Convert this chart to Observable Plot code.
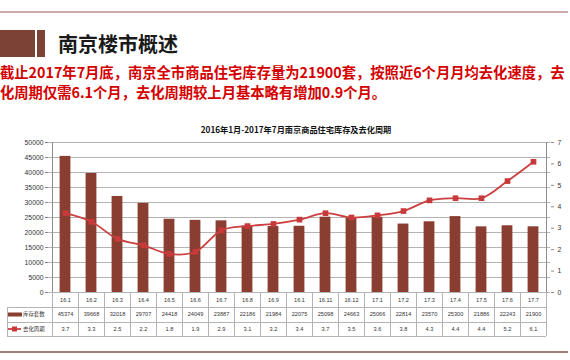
<!DOCTYPE html>
<html><head><meta charset="utf-8">
<script src="https://cdn.jsdelivr.net/npm/d3@7"></script>
<script src="https://cdn.jsdelivr.net/npm/@observablehq/plot@0.6"></script>
<style>
body{margin:0;background:#fff;}
#wrap{position:relative;width:570px;height:360px;overflow:hidden;background:#fff;font-family:"Noto Sans CJK SC",sans-serif;}
.abs{position:absolute;white-space:nowrap;}
#chart{position:absolute;left:0;top:110px;}
</style></head>
<body><div id="wrap">
<div class="abs" style="left:0;top:11px;width:568px;height:2px;background:#c9aaa8"></div>
<div class="abs" style="left:0;top:30px;width:35px;height:27px;background:#7d4236"></div>
<div class="abs" style="left:37px;top:30px;width:8px;height:27px;background:#7d4236"></div>
<div class="abs" style="left:58px;top:30px;font-size:20px;line-height:28px;font-weight:bold;color:#1a1a1a;font-family:'Noto Sans CJK SC'">南京楼市概述</div>
<div class="abs" style="left:0;top:62px;font-size:14.3px;line-height:20px;font-weight:bold;color:#d40000;font-family:'Noto Sans CJK SC'">截止2017年7月底，南京全市商品住宅库存量为21900套，按照近6个月月均去化速度，去</div>
<div class="abs" style="left:0;top:82px;font-size:14.3px;line-height:20px;font-weight:bold;color:#d40000;font-family:'Noto Sans CJK SC'">化周期仅需6.1个月，去化周期较上月基本略有增加0.9个月。</div>
<div class="abs" style="left:0;width:570px;text-align:center;top:123px;font-size:8.2px;line-height:12px;font-weight:bold;color:#111;padding-left:22px;box-sizing:border-box">2016年1月-2017年7月南京商品住宅库存及去化周期</div>
<div id="chart"></div>
<div class="abs" style="left:0;top:351px;width:568px;height:2px;background:#a87c76"></div>
</div>
<script>
const months = ["16.1","16.2","16.3","16.4","16.5","16.6","16.7","16.8","16.9","16.1","16.11","16.12","17.1","17.2","17.3","17.4","17.5","17.6","17.7"];
const stock = [45374,39668,32018,29707,24418,24049,23887,22186,21984,22075,25098,24663,25066,22814,23570,25300,21886,22243,21900];
const cycle = [3.7,3.3,2.5,2.2,1.8,1.9,2.9,3.1,3.2,3.4,3.7,3.5,3.6,3.8,4.3,4.4,4.4,5.2,6.1];
const seriesNames = ["库存套数","去化周期"];
const leftTicks = d3.range(0, 50001, 5000);
const rightTicks = d3.range(0, 8);
const yMax = 50000, rMax = 7;

const data = months.map((m,i)=>({i, m, stock: stock[i], cycle: cycle[i], cy: cycle[i]*yMax/rMax}));

const W = 570, H = 240, mL = 48, mR = 20, mT = 32, mB = 58;
const barColor = "#8a3e31", lineColor = "#cc4040", gridColor = "#b3b3b3", txt = "#333";
const tFont = "Liberation Sans, Arial, sans-serif";

const chart = Plot.plot({
  width: W, height: H, marginLeft: mL, marginRight: mR, marginTop: mT, marginBottom: mB,
  style: {fontFamily: tFont, background: "transparent", overflow: "visible"},
  x: {type: "band", domain: d3.range(months.length), padding: 0, axis: null},
  y: {domain: [0, yMax], axis: null},
  marks: [
    Plot.gridY(leftTicks, {stroke: gridColor, strokeOpacity: 1, strokeWidth: 1}),
    Plot.barY(data, {x: "i", y: "stock", fill: barColor, insetLeft: 7.6, insetRight: 7.6}),
    Plot.line(data, {x: "i", y: "cy", stroke: lineColor, strokeWidth: 1.8, curve: "catmull-rom"}),
    Plot.dot(data, {x: "i", y: "cy", symbol: "square", r: 3.2, fill: "#c83a3a", stroke: "none"}),
    Plot.axisY({anchor: "left", ticks: leftTicks, tickFormat: d3.format("d"), tickSize: 3, tickPadding: 2, fontSize: 6.8, color: txt, stroke: "#888"}),
    Plot.axisY({anchor: "right", ticks: rightTicks.map(v => v*yMax/rMax), tickFormat: d => String(Math.round(d*rMax/yMax)), tickSize: 3, tickPadding: 4, fontSize: 6.8, color: txt, stroke: "#888"}),
    Plot.text(data, {x: "i", y: () => 0, text: "m", dy: 8, fontSize: 5.6, fill: txt}),
    Plot.text(data, {x: "i", y: () => 0, text: d => String(d.stock), dy: 22, fontSize: 5.6, fill: txt}),
    Plot.text(data, {x: "i", y: () => 0, text: d => String(d.cycle), dy: 36.5, fontSize: 5.6, fill: txt})
  ]
});
document.getElementById("chart").appendChild(chart);

// table grid & legend column, positioned from Plot's scales
const svg = d3.select(chart);
const xs = chart.scale("x"), ys = chart.scale("y");
const bw = xs.bandwidth;
const y0 = ys.apply(0);
const r1 = y0 + 15, r2 = y0 + 30, r3 = y0 + 44;
const x0 = xs.apply(0), xEnd = xs.apply(months.length - 1) + bw, xLeg = 7;
const g = svg.append("g").attr("stroke", gridColor).attr("stroke-width", 1).attr("fill", "none").attr("shape-rendering", "crispEdges");
for (let k = 0; k <= months.length; k++) {
  const xx = Math.round(x0 + k*bw) + 0.5;
  g.append("line").attr("x1", xx).attr("x2", xx).attr("y1", y0).attr("y2", r3);
}
g.append("line").attr("x1", xLeg + 0.5).attr("x2", xLeg + 0.5).attr("y1", r1).attr("y2", r3);
[r1, r2, r3].forEach(yy => g.append("line").attr("x1", xLeg).attr("x2", xEnd).attr("y1", Math.round(yy)+0.5).attr("y2", Math.round(yy)+0.5));
// axis lines
const ax = svg.append("g").attr("stroke", "#8c8c8c").attr("shape-rendering", "crispEdges");
ax.append("line").attr("x1", Math.round(x0)+0.5).attr("x2", Math.round(x0)+0.5).attr("y1", ys.apply(yMax)).attr("y2", y0);
ax.append("line").attr("x1", Math.round(xEnd)+0.5).attr("x2", Math.round(xEnd)+0.5).attr("y1", ys.apply(yMax)).attr("y2", y0);
// legend swatches
const lg = svg.append("g").attr("font-size", 5.4).attr("fill", txt).attr("text-anchor", "start");
lg.append("rect").attr("x", 8).attr("y", (r1+r2)/2 - 2).attr("width", 14).attr("height", 4).attr("fill", barColor);
lg.append("text").attr("x", 23).attr("y", (r1+r2)/2).attr("dy", "0.35em").attr("text-anchor", "start").style("font-family", "Noto Sans CJK SC").text(seriesNames[0]);
const my = (r2+r3)/2;
lg.append("line").attr("x1", 8).attr("x2", 21).attr("y1", my).attr("y2", my).attr("stroke", lineColor).attr("stroke-width", 1.8);
lg.append("rect").attr("x", 12).attr("y", my-2.5).attr("width", 5).attr("height", 5).attr("fill", "#c83a3a");
lg.append("text").attr("x", 23).attr("y", my).attr("dy", "0.35em").attr("text-anchor", "start").style("font-family", "Noto Sans CJK SC").text(seriesNames[1]);
</script>
</body></html>
